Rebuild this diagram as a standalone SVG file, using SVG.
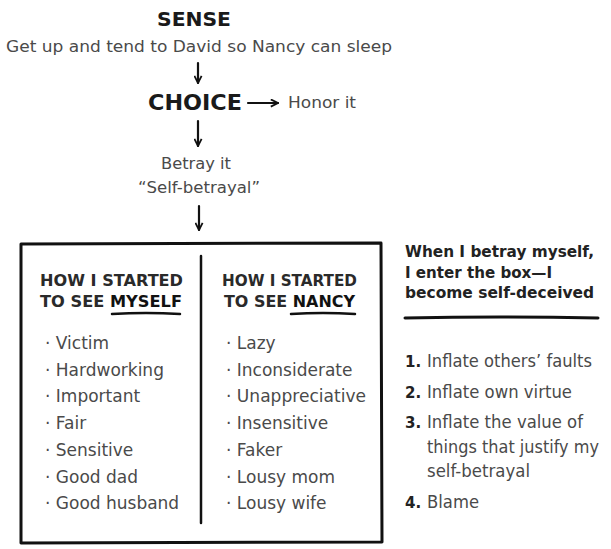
<svg xmlns="http://www.w3.org/2000/svg" width="611" height="549" viewBox="0 0 611 549">
<style>
text{font-family:"DejaVu Sans","Noto Sans",sans-serif;}
.t{font-size:16px;fill:#4a4a4a;}
.h{font-weight:bold;fill:#1a1a1a;}
.hd{font-size:15px;font-weight:bold;fill:#2a2a2a;}
.it{font-size:17px;fill:#4a4a4a;}
.rt{font-size:17px;fill:#4a4a4a;}
.rh{font-size:15px;font-weight:bold;fill:#222;}
.num{font-size:15px;font-weight:bold;fill:#222;}
.ln{stroke:#111;stroke-width:2.2;fill:none;stroke-linecap:round;}
</style>
<defs>
<marker id="ah" viewBox="0 0 10 10" refX="9" refY="5" markerWidth="9" markerHeight="9" markerUnits="userSpaceOnUse" orient="auto">
<path d="M1,1 L9,5 L1,9" fill="none" stroke="#111" stroke-width="2"/>
</marker>
</defs>
<rect width="611" height="549" fill="#fff"/>
<g id="sense">
<text x="194" y="26" text-anchor="middle" class="h" font-size="19" textLength="74" lengthAdjust="spacingAndGlyphs">SENSE</text>
<text x="199" y="52" text-anchor="middle" class="t" textLength="386" lengthAdjust="spacingAndGlyphs">Get up and tend to David so Nancy can sleep</text>
</g>
<g id="choice">
<text x="195" y="110" text-anchor="middle" class="h" font-size="21" textLength="94" lengthAdjust="spacingAndGlyphs">CHOICE</text>
</g>
<g id="honor">
<text x="288" y="108" class="t" textLength="68" lengthAdjust="spacingAndGlyphs">Honor it</text>
</g>
<g id="betray">
<text x="196" y="169" text-anchor="middle" class="t" textLength="70" lengthAdjust="spacingAndGlyphs">Betray it</text>
<text x="199" y="193" text-anchor="middle" class="t" textLength="122" lengthAdjust="spacingAndGlyphs">“Self-betrayal”</text>
</g>
<g id="connectors">
<line x1="198" y1="63" x2="198" y2="83" class="ln" marker-end="url(#ah)"/>
<line x1="248" y1="103" x2="278" y2="103" class="ln" marker-end="url(#ah)"/>
<line x1="198" y1="121" x2="198" y2="146" class="ln" marker-end="url(#ah)"/>
<line x1="199" y1="206" x2="199" y2="230" class="ln" marker-end="url(#ah)"/>
</g>
<g id="box">
<path d="M21,244 L381,243 L382,542 L21,543 Z" fill="none" stroke="#111" stroke-width="3" stroke-linejoin="round"/>
<line x1="201" y1="256" x2="201" y2="523" stroke="#111" stroke-width="2.5" stroke-linecap="round"/>
</g>
<g id="myself">
<text x="40" y="286" class="hd" textLength="143" lengthAdjust="spacingAndGlyphs">HOW I STARTED</text>
<text x="40" y="307" class="hd" textLength="142" lengthAdjust="spacingAndGlyphs">TO SEE <tspan fill="#111">MYSELF</tspan></text>
<path d="M112,314 Q146,312 180,314" stroke="#111" stroke-width="2.5" fill="none" stroke-linecap="round"/>
<text x="45" y="349" class="it">· Victim</text>
<text x="45" y="376" class="it">· Hardworking</text>
<text x="45" y="402" class="it">· Important</text>
<text x="45" y="429" class="it">· Fair</text>
<text x="45" y="456" class="it">· Sensitive</text>
<text x="45" y="483" class="it">· Good dad</text>
<text x="45" y="509" class="it">· Good husband</text>
</g>
<g id="nancy">
<text x="222" y="286" class="hd" textLength="135" lengthAdjust="spacingAndGlyphs">HOW I STARTED</text>
<text x="224" y="307" class="hd" textLength="131" lengthAdjust="spacingAndGlyphs">TO SEE <tspan fill="#111">NANCY</tspan></text>
<path d="M291,314 Q323,312 355,314" stroke="#111" stroke-width="2.5" fill="none" stroke-linecap="round"/>
<text x="226" y="349" class="it">· Lazy</text>
<text x="226" y="376" class="it">· Inconsiderate</text>
<text x="226" y="402" class="it" textLength="140" lengthAdjust="spacingAndGlyphs">· Unappreciative</text>
<text x="226" y="429" class="it">· Insensitive</text>
<text x="226" y="456" class="it">· Faker</text>
<text x="226" y="483" class="it">· Lousy mom</text>
<text x="226" y="509" class="it">· Lousy wife</text>
</g>
<g id="selfdeceived">
<text x="405" y="257" class="rh" textLength="189" lengthAdjust="spacingAndGlyphs">When I betray myself,</text>
<text x="405" y="278" class="rh" textLength="147" lengthAdjust="spacingAndGlyphs">I enter the box—I</text>
<text x="405" y="298" class="rh" textLength="189" lengthAdjust="spacingAndGlyphs">become self-deceived</text>
<path d="M405,318 Q500,316 598,318" stroke="#111" stroke-width="3" fill="none" stroke-linecap="round"/>
</g>
<g id="list">
<text x="405" y="367" class="num">1.</text><text x="427" y="367" class="rt" textLength="165" lengthAdjust="spacingAndGlyphs">Inflate others’ faults</text>
<text x="405" y="398" class="num">2.</text><text x="427" y="398" class="rt" textLength="145" lengthAdjust="spacingAndGlyphs">Inflate own virtue</text>
<text x="405" y="428" class="num">3.</text><text x="427" y="428" class="rt" textLength="156" lengthAdjust="spacingAndGlyphs">Inflate the value of</text>
<text x="427" y="453" class="rt" textLength="172" lengthAdjust="spacingAndGlyphs">things that justify my</text>
<text x="427" y="477" class="rt" textLength="103" lengthAdjust="spacingAndGlyphs">self-betrayal</text>
<text x="405" y="508" class="num">4.</text><text x="427" y="508" class="rt" textLength="52" lengthAdjust="spacingAndGlyphs">Blame</text>
</g>
</svg>
